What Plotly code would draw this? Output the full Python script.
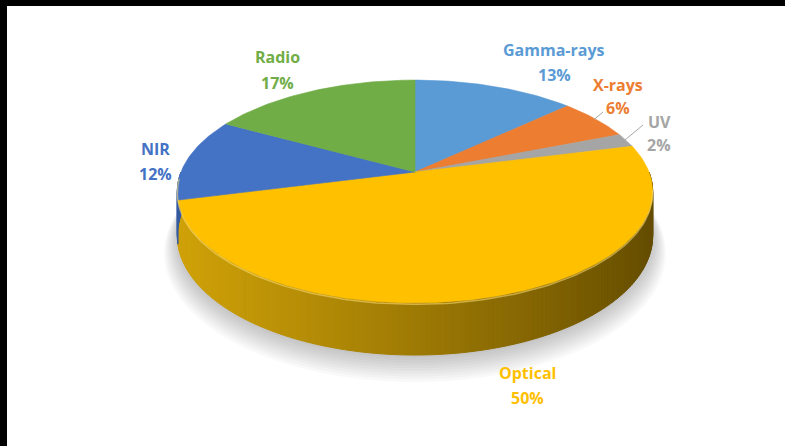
import numpy as np
import plotly.graph_objects as go

# Share of each waveband (percent), clockwise from 12 o'clock
names = ["Gamma-rays", "X-rays", "UV", "Optical", "NIR", "Radio"]
values = [13, 6, 2, 50, 12, 17]
colors = ["#5B9BD5", "#ED7D31", "#A5A5A5", "#FFC000", "#4472C4", "#70AD47"]
# Dark/light side shades for the rim of each slice (left -> right lighting)
side_light = [(70, 120, 170), (190, 100, 40), (140, 140, 140), (208, 162, 8), (55, 90, 160), (90, 140, 55)]
side_dark = [(35, 60, 90), (100, 50, 20), (80, 80, 80), (100, 76, 0), (30, 50, 90), (45, 75, 28)]

# Label placement (pixel centres of name / percentage lines)
label_pos = {
    "Gamma-rays": (554, 50, 75),
    "X-rays": (618, 85, 108),
    "UV": (659, 122, 145),
    "Optical": (527, 373, 398),
    "NIR": (155, 149, 174),
    "Radio": (277, 57, 83),
}
# leader line end points for the small slices
leaders = {"X-rays": (603, 112), "UV": (643, 125)}

# 3-D disc geometry (pixel space)
CX, CY = 415, 172
A0, B0 = 234, 108
K = 0.175
D0 = 43


def proj(theta, r=1.0, drop=0.0):
    s, c = np.sin(theta), np.cos(theta)
    den = 1 + K * c * r
    x = CX + A0 * r * s / den
    y = CY - B0 * r * c / den + drop / den
    return x, y


def rgb(t):
    return "rgb(%d,%d,%d)" % tuple(int(round(v)) for v in t)


fig = go.Figure()

# soft drop shadow under the disc
full = np.linspace(0, 2 * np.pi, 200)
for i in range(10):
    sx, sy = proj(full, r=1.0 + 0.006 * i, drop=D0 + 2 + 1.4 * i)
    fig.add_trace(go.Scatter(x=sx, y=sy, fill="toself", mode="none",
                             fillcolor="rgba(0,0,0,0.022)", hoverinfo="skip"))

total = float(sum(values))
bounds = np.concatenate([[0], np.cumsum(values)]) / total * 2 * np.pi

# rim (side wall) of the front half, drawn as thin shaded strips
front = np.linspace(np.pi / 2, 3 * np.pi / 2, 181)
xl, _ = proj(np.array([np.pi * 1.5 - 0.175]))
xr, _ = proj(np.array([np.pi * 0.5 + 0.175]))
xl, xr = xl[0], xr[0]
for t0, t1 in zip(front[:-1], front[1:]):
    tm = 0.5 * (t0 + t1)
    idx = int(np.searchsorted(bounds, tm, side="right") - 1)
    idx = min(max(idx, 0), len(values) - 1)
    arc = np.array([t0, t1])
    tx, ty = proj(arc)
    bx, by = proj(arc, drop=D0)
    xm = float(np.mean(tx))
    u = np.clip((xr - xm) / (xr - xl), 0, 1)  # 1 on the left, 0 on the right
    w = u ** 0.9
    col = np.array(side_dark[idx]) * (1 - w) + np.array(side_light[idx]) * w
    px = [tx[0], tx[1], bx[1], bx[0], tx[0]]
    py = [ty[0], ty[1], by[1], by[0], ty[0]]
    fig.add_trace(go.Scatter(x=px, y=py, fill="toself", mode="lines",
                             line=dict(color=rgb(col), width=1),
                             fillcolor=rgb(col), hoverinfo="skip"))

# top face slices
for i, (nm, col) in enumerate(zip(names, colors)):
    th = np.linspace(bounds[i], bounds[i + 1], max(int(values[i] * 4), 8))
    ax_, ay_ = proj(th)
    px = np.concatenate([[CX], ax_, [CX]])
    py = np.concatenate([[CY], ay_, [CY]])
    fig.add_trace(go.Scatter(x=px, y=py, fill="toself", mode="lines",
                             line=dict(color=col, width=0.6),
                             fillcolor=col, hoverinfo="skip"))

# faint bevel highlight along the front rim
hl = np.linspace(np.pi / 2 + 0.15, 3 * np.pi / 2 - 0.05, 120)
hx, hy = proj(hl, drop=1.2)
fig.add_trace(go.Scatter(x=hx, y=hy, mode="lines",
                         line=dict(color="rgba(255,225,120,0.55)", width=1.5),
                         hoverinfo="skip"))

# leader lines for the thin slices
for i, nm in enumerate(names):
    if nm in leaders:
        mid = 0.5 * (bounds[i] + bounds[i + 1])
        ex, ey = proj(np.array([mid]), r=0.99)
        lx, ly = leaders[nm]
        fig.add_trace(go.Scatter(x=[ex[0], lx], y=[ey[0], ly], mode="lines",
                                 line=dict(color="#A6A6A6", width=1),
                                 hoverinfo="skip"))

# data labels
annotations = []
for i, (nm, col) in enumerate(zip(names, colors)):
    x, y1, y2 = label_pos[nm]
    pct = "%d%%" % round(values[i] / total * 100)
    for txt, yy in ((nm, y1), (pct, y2)):
        annotations.append(dict(x=x, y=yy, xref="x", yref="y", text=txt,
                                showarrow=False, xanchor="center", yanchor="middle",
                                font=dict(family="Open Sans", size=16, color=col,
                                          weight="bold")))

fig.update_layout(
    width=785, height=446,
    margin=dict(l=7, r=0, t=6, b=0),
    paper_bgcolor="black", plot_bgcolor="white",
    showlegend=False, hovermode=False,
    xaxis=dict(range=[7, 785], visible=False, fixedrange=True),
    yaxis=dict(range=[446, 6], visible=False, fixedrange=True),
    annotations=annotations,
)

fig.write_html("out.html", config={"displayModeBar": False})
